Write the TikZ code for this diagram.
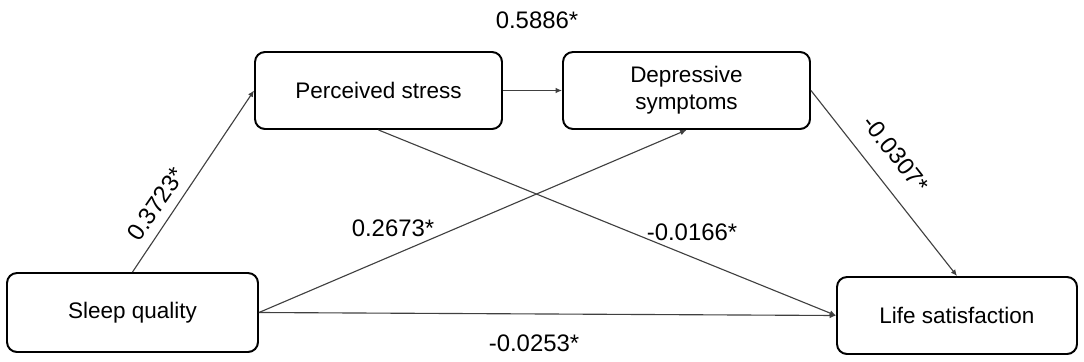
\documentclass[tikz,border=0pt]{standalone}
\usepackage{fontspec}
\setmainfont{Liberation Sans}
\usetikzlibrary{arrows.meta}

\tikzset{
  factor/.style={draw=black, line width=1.4pt, rounded corners=0.25cm, align=center,
    inner sep=0pt, font=\fontsize{16}{19}\selectfont},
  effect/.style={draw=black!75, line width=0.8pt, -{Latex[length=4.5pt,width=4pt]}},
  coef/.style={font=\fontsize{17}{20}\selectfont, inner sep=0pt}
}

\begin{document}
\begin{tikzpicture}

\useasboundingbox (0,0) rectangle (27.1,9.025);

% variables
\node[factor, minimum width=6.275cm, minimum height=1.975cm] (sleep) at (3.3125,1.2125) {Sleep quality};
\node[factor, minimum width=6.175cm, minimum height=1.925cm] (stress) at (9.4625,6.7625) {Perceived stress};
\node[factor, minimum width=6.175cm, minimum height=1.925cm] (depress) at (17.1625,6.7625) {Depressive\\symptoms};
\node[factor, minimum width=6.0cm, minimum height=1.925cm] (life) at (23.925,1.1375) {Life satisfaction};

% paths
\draw[effect] (sleep.north) -- (stress.west);
\draw[effect] (stress.east) -- (depress.west);
\draw[effect] (sleep.east) -- (depress.south);
\draw[effect] (stress.south) -- (life.west);
\draw[effect] (sleep.east) -- (life.west);
\draw[effect] (depress.east) -- (life.north);

% coefficients
\node[coef] (c1) at (13.425,8.525) {0.5886*};
\node[coef, rotate=55.6] (c2) at (3.9,3.925) {0.3723*};
\node[coef] (c3) at (9.825,3.325) {0.2673*};
\node[coef] (c4) at (17.3,3.225) {-0.0166*};
\node[coef, rotate=-52] (c5) at (22.4,5.175) {-0.0307*};
\node[coef] (c6) at (13.35,0.45) {-0.0253*};

\end{tikzpicture}
\end{document}
